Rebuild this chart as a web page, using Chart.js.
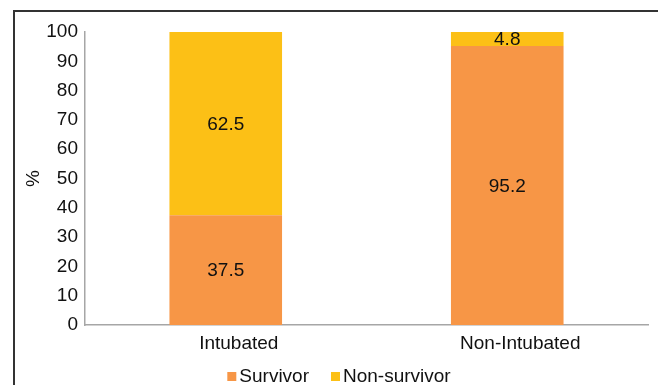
<!DOCTYPE html>
<html>
<head>
<meta charset="utf-8">
<script src="https://cdn.jsdelivr.net/npm/chart.js@4.4.1/dist/chart.umd.min.js"></script>
<style>
  html, body { margin: 0; padding: 0; background: #fff; }
  #wrap { position: relative; width: 658px; height: 385px; }
  #frame { position: absolute; left: 13px; top: 10px; right: -4px; bottom: -4px;
           border-left: 2px solid #333; border-top: 2px solid #333; pointer-events: none; }
  canvas { position: absolute; left: 0; top: 0; }
</style>
</head>
<body>
<div id="wrap">
  <canvas id="c" width="658" height="385"></canvas>
  <div id="frame"></div>
</div>
<script>
const categories = ['Intubated', 'Non-Intubated'];
const seriesNames = ['Survivor', 'Non-survivor'];
const survivor = [37.5, 95.2];
const nonSurvivor = [62.5, 4.8];
const yTicks = [0, 10, 20, 30, 40, 50, 60, 70, 80, 90, 100];
const colors = ['#F79646', '#FCC016'];

const FONT = 'Liberation Sans, Arial, sans-serif';
const FS = 19;

// Writes each segment's value in the middle of its bar piece
const barValueLabels = {
  id: 'barValueLabels',
  afterDatasetsDraw(chart) {
    const ctx = chart.ctx;
    ctx.save();
    ctx.font = FS + 'px ' + FONT;
    ctx.fillStyle = '#111';
    ctx.textAlign = 'center';
    ctx.textBaseline = 'middle';
    chart.data.datasets.forEach((ds, di) => {
      chart.getDatasetMeta(di).data.forEach((bar, i) => {
        const y = (bar.y + bar.base) / 2;
        ctx.fillText(String(ds.data[i]), bar.x, y + 1);
      });
    });
    ctx.restore();
  }
};

// Compact legend row: small square swatch tight against its label
const compactLegend = {
  id: 'compactLegend',
  afterDraw(chart) {
    const ctx = chart.ctx;
    const box = 9, gap = 3, itemGap = 22;
    ctx.save();
    ctx.font = FS + 'px ' + FONT;
    const items = chart.data.datasets.map(ds => ({
      text: ds.label, color: ds.backgroundColor, w: ctx.measureText(ds.label).width
    }));
    const total = items.reduce((s, it) => s + box + gap + it.w, 0) + itemGap * (items.length - 1);
    let x = chart.width / 2 + 10 - total / 2;
    const baseline = chart.height - 3;
    ctx.textBaseline = 'alphabetic';
    ctx.textAlign = 'left';
    items.forEach(it => {
      ctx.fillStyle = it.color;
      ctx.fillRect(x, baseline - 10, box, box);
      x += box + gap;
      ctx.fillStyle = '#111';
      ctx.fillText(it.text, x, baseline);
      x += it.w + itemGap;
    });
    ctx.restore();
  }
};

new Chart(document.getElementById('c'), {
  type: 'bar',
  data: {
    labels: categories,
    datasets: [
      { label: seriesNames[0], data: survivor, backgroundColor: colors[0],
        categoryPercentage: 1, barPercentage: 0.4 },
      { label: seriesNames[1], data: nonSurvivor, backgroundColor: colors[1],
        categoryPercentage: 1, barPercentage: 0.4 }
    ]
  },
  options: {
    responsive: false,
    animation: false,
    layout: { padding: { left: 0, right: 10, top: 32, bottom: 27 } },
    plugins: {
      tooltip: { enabled: false },
      legend: { display: false }
    },
    scales: {
      x: {
        stacked: true,
        grid: { display: false, drawTicks: false },
        border: { color: '#A6A6A6', width: 1.5 },
        afterFit(scale) { scale.height = 33; },
        ticks: { color: '#111', font: { family: FONT, size: FS }, padding: 7, labelOffset: 13 }
      },
      y: {
        stacked: true,
        min: 0, max: 100,
        afterBuildTicks(scale) { scale.ticks = yTicks.map(v => ({ value: v })); },
        afterFit(scale) { scale.width = 85; },
        grid: { display: false, drawTicks: false },
        border: { color: '#A6A6A6', width: 1.5 },
        title: { display: true, text: '%', color: '#111', font: { family: FONT, size: FS }, padding: { top: 22, bottom: 0 } },
        ticks: { color: '#111', font: { family: FONT, size: FS }, padding: 7 }
      }
    }
  },
  plugins: [barValueLabels, compactLegend]
});
</script>
</body>
</html>
